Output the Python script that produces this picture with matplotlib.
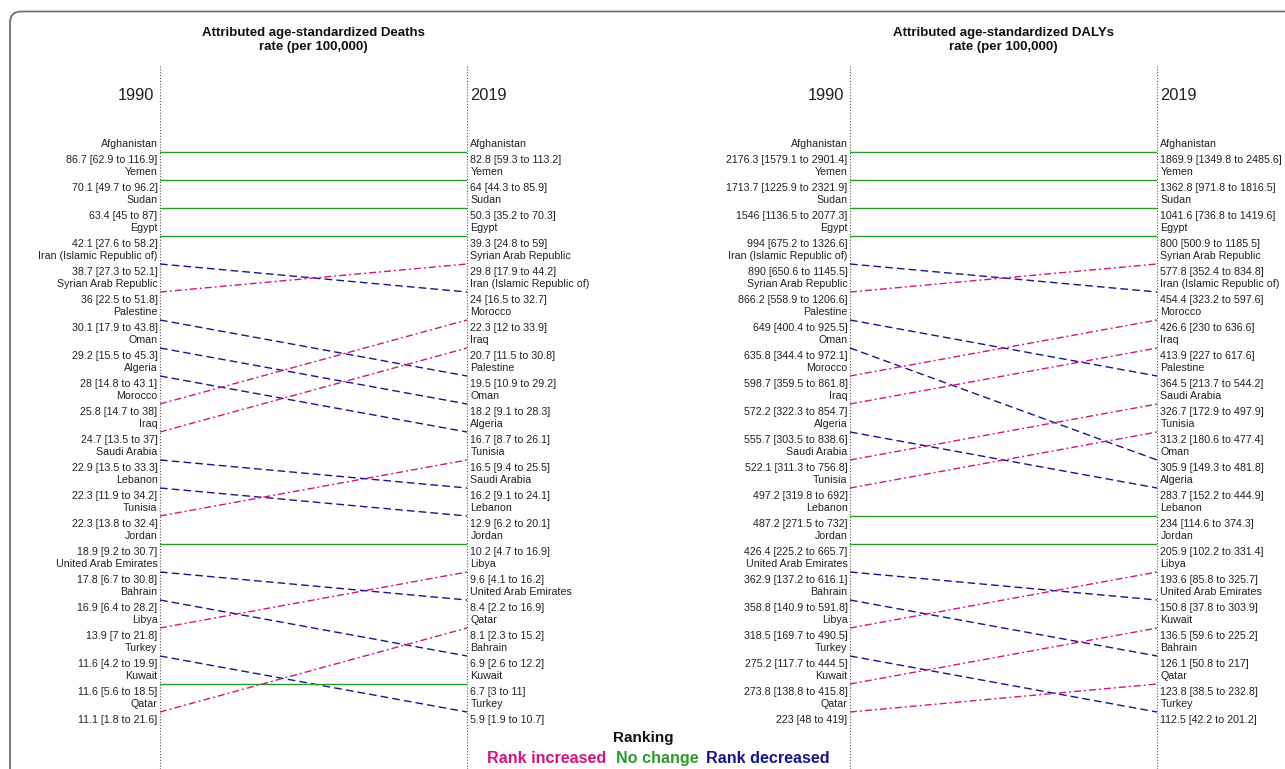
import matplotlib
matplotlib.use("Agg")
import matplotlib.pyplot as plt
from matplotlib.path import Path
from matplotlib.patches import PathPatch
from matplotlib.transforms import IdentityTransform

plt.rcParams['font.family'] = ['Liberation Sans', 'DejaVu Sans']

# ---- Attributed age-standardized deaths rate (per 100,000) ----
deaths_1990_countries = ["Afghanistan", "Yemen", "Sudan", "Egypt", "Iran (Islamic Republic of)",
                         "Syrian Arab Republic", "Palestine", "Oman", "Algeria", "Morocco", "Iraq",
                         "Saudi Arabia", "Lebanon", "Tunisia", "Jordan", "United Arab Emirates",
                         "Bahrain", "Libya", "Turkey", "Kuwait", "Qatar"]
deaths_1990_val = [86.7, 70.1, 63.4, 42.1, 38.7, 36, 30.1, 29.2, 28, 25.8, 24.7,
                   22.9, 22.3, 22.3, 18.9, 17.8, 16.9, 13.9, 11.6, 11.6, 11.1]
deaths_1990_lo = [62.9, 49.7, 45, 27.6, 27.3, 22.5, 17.9, 15.5, 14.8, 14.7, 13.5,
                  13.5, 11.9, 13.8, 9.2, 6.7, 6.4, 7, 4.2, 5.6, 1.8]
deaths_1990_hi = [116.9, 96.2, 87, 58.2, 52.1, 51.8, 43.8, 45.3, 43.1, 38, 37,
                  33.3, 34.2, 32.4, 30.7, 30.8, 28.2, 21.8, 19.9, 18.5, 21.6]

deaths_2019_countries = ["Afghanistan", "Yemen", "Sudan", "Egypt", "Syrian Arab Republic",
                         "Iran (Islamic Republic of)", "Morocco", "Iraq", "Palestine", "Oman",
                         "Algeria", "Tunisia", "Saudi Arabia", "Lebanon", "Jordan", "Libya",
                         "United Arab Emirates", "Qatar", "Bahrain", "Kuwait", "Turkey"]
deaths_2019_val = [82.8, 64, 50.3, 39.3, 29.8, 24, 22.3, 20.7, 19.5, 18.2, 16.7,
                   16.5, 16.2, 12.9, 10.2, 9.6, 8.4, 8.1, 6.9, 6.7, 5.9]
deaths_2019_lo = [59.3, 44.3, 35.2, 24.8, 17.9, 16.5, 12, 11.5, 10.9, 9.1, 8.7,
                  9.4, 9.1, 6.2, 4.7, 4.1, 2.2, 2.3, 2.6, 3, 1.9]
deaths_2019_hi = [113.2, 85.9, 70.3, 59, 44.2, 32.7, 33.9, 30.8, 29.2, 28.3, 26.1,
                  25.5, 24.1, 20.1, 16.9, 16.2, 16.9, 15.2, 12.2, 11, 10.7]

# ---- Attributed age-standardized DALYs rate (per 100,000) ----
dalys_1990_countries = ["Afghanistan", "Yemen", "Sudan", "Egypt", "Iran (Islamic Republic of)",
                        "Syrian Arab Republic", "Palestine", "Oman", "Morocco", "Iraq", "Algeria",
                        "Saudi Arabia", "Tunisia", "Lebanon", "Jordan", "United Arab Emirates",
                        "Bahrain", "Libya", "Turkey", "Kuwait", "Qatar"]
dalys_1990_val = [2176.3, 1713.7, 1546, 994, 890, 866.2, 649, 635.8, 598.7, 572.2, 555.7,
                  522.1, 497.2, 487.2, 426.4, 362.9, 358.8, 318.5, 275.2, 273.8, 223]
dalys_1990_lo = [1579.1, 1225.9, 1136.5, 675.2, 650.6, 558.9, 400.4, 344.4, 359.5, 322.3, 303.5,
                 311.3, 319.8, 271.5, 225.2, 137.2, 140.9, 169.7, 117.7, 138.8, 48]
dalys_1990_hi = [2901.4, 2321.9, 2077.3, 1326.6, 1145.5, 1206.6, 925.5, 972.1, 861.8, 854.7, 838.6,
                 756.8, 692, 732, 665.7, 616.1, 591.8, 490.5, 444.5, 415.8, 419]

dalys_2019_countries = ["Afghanistan", "Yemen", "Sudan", "Egypt", "Syrian Arab Republic",
                        "Iran (Islamic Republic of)", "Morocco", "Iraq", "Palestine", "Saudi Arabia",
                        "Tunisia", "Oman", "Algeria", "Lebanon", "Jordan", "Libya",
                        "United Arab Emirates", "Kuwait", "Bahrain", "Qatar", "Turkey"]
dalys_2019_val = [1869.9, 1362.8, 1041.6, 800, 577.8, 454.4, 426.6, 413.9, 364.5, 326.7, 313.2,
                  305.9, 283.7, 234, 205.9, 193.6, 150.8, 136.5, 126.1, 123.8, 112.5]
dalys_2019_lo = [1349.8, 971.8, 736.8, 500.9, 352.4, 323.2, 230, 227, 213.7, 172.9, 180.6,
                 149.3, 152.2, 114.6, 102.2, 85.8, 37.8, 59.6, 50.8, 38.5, 42.2]
dalys_2019_hi = [2485.6, 1816.5, 1419.6, 1185.5, 834.8, 597.6, 636.6, 617.6, 544.2, 497.9, 477.4,
                 481.8, 444.9, 374.3, 331.4, 325.7, 303.9, 225.2, 217, 232.8, 201.2]

year_labels = ["1990", "2019"]
legend_labels = ["Rank increased", "No change", "Rank decreased"]

C_UP = "#d4157f"
C_SAME = "#2e9a2e"
C_DOWN = "#16168c"
STYLE = {
    "up": dict(color=C_UP, linestyle=(0, (5, 2.2, 1.4, 2.2))),
    "same": dict(color=C_SAME, linestyle="-"),
    "down": dict(color=C_DOWN, linestyle=(0, (5.5, 3))),
}

W, H = 1285, 769
fig = plt.figure(figsize=(W / 100, H / 100), dpi=100)

LABEL_FS = 7.7


def fmt(v):
    return f"{v:g}"


def slope_panel(x_left_px, title_lines, c90, v90, lo90, hi90, c19, v19, lo19, hi19):
    ax = fig.add_axes([x_left_px / W, 0, 307 / W, 1 - 65 / H])
    n = len(c90)
    top = 1 + (65 - 152) / 28
    bottom = 1 + (H - 152) / 28
    ax.set_xlim(0, 1)
    ax.set_ylim(bottom, top)
    ax.axis("off")

    for x in (0, 1):
        ax.axvline(x, color="#555555", linestyle=(0, (1, 1.6)), linewidth=0.8, clip_on=False)

    rank90 = {c: i + 1 for i, c in enumerate(c90)}
    rank19 = {c: i + 1 for i, c in enumerate(c19)}
    for c in c90:
        r0, r1 = rank90[c], rank19[c]
        kind = "same" if r0 == r1 else ("up" if r1 < r0 else "down")
        ax.plot([0, 1], [r0, r1], linewidth=1.0, **STYLE[kind])

    for i in range(n):
        r = i + 1
        ax.text(-0.008, r - 0.28, c90[i], ha="right", va="center", fontsize=LABEL_FS,
                color="#222222", clip_on=False)
        ax.text(-0.008, r + 0.30, f"{fmt(v90[i])} [{fmt(lo90[i])} to {fmt(hi90[i])}]",
                ha="right", va="center", fontsize=LABEL_FS, color="#222222", clip_on=False)
        ax.text(1.011, r - 0.28, c19[i], ha="left", va="center", fontsize=LABEL_FS,
                color="#222222", clip_on=False)
        ax.text(1.011, r + 0.30, f"{fmt(v19[i])} [{fmt(lo19[i])} to {fmt(hi19[i])}]",
                ha="left", va="center", fontsize=LABEL_FS, color="#222222", clip_on=False)

    year_y = 1 + (95 - 152) / 28
    ax.text(-0.02, year_y, year_labels[0], ha="right", va="center", fontsize=11.8,
            color="#222222", clip_on=False)
    ax.text(1.01, year_y, year_labels[1], ha="left", va="center", fontsize=11.8,
            color="#222222", clip_on=False)

    for line, ypx in zip(title_lines, (33, 47)):
        fig.text((x_left_px + 153.5) / W, 1 - ypx / H, line, ha="center", va="center",
                 fontsize=9.5, fontweight="bold", color="#111111")
    return ax


slope_panel(160, ["Attributed age-standardized Deaths", "rate (per 100,000)"],
            deaths_1990_countries, deaths_1990_val, deaths_1990_lo, deaths_1990_hi,
            deaths_2019_countries, deaths_2019_val, deaths_2019_lo, deaths_2019_hi)
slope_panel(850, ["Attributed age-standardized DALYs", "rate (per 100,000)"],
            dalys_1990_countries, dalys_1990_val, dalys_1990_lo, dalys_1990_hi,
            dalys_2019_countries, dalys_2019_val, dalys_2019_lo, dalys_2019_hi)

# Legend
fig.text(643 / W, 1 - 742 / H, "Ranking", ha="center", va="baseline", fontsize=11,
         fontweight="bold", color="#111111")
for label, color, xc in zip(legend_labels, [C_UP, C_SAME, C_DOWN], [546.5, 657, 767.5]):
    fig.text(xc / W, 1 - 763 / H, label, ha="center", va="baseline", fontsize=11.6,
             fontweight="bold", color=color)

# Rounded frame along the top-left edge
r = 11
x0, ytop = 10, H - 11.5
verts = [(x0, -20), (x0, ytop - r), (x0, ytop), (x0 + r, ytop), (W + 20, ytop)]
codes = [Path.MOVETO, Path.LINETO, Path.CURVE3, Path.CURVE3, Path.LINETO]
fig.patches.append(PathPatch(Path(verts, codes), transform=IdentityTransform(),
                             facecolor="none", edgecolor="#707070", linewidth=1.3))

fig.savefig("out.png", dpi=100)
